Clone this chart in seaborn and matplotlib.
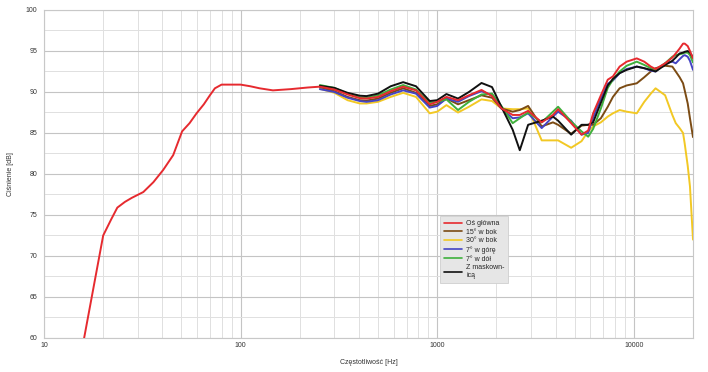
import numpy as np
import pandas as pd
import matplotlib
matplotlib.use("Agg")
import matplotlib.pyplot as plt
from matplotlib.ticker import LogLocator, FixedLocator, NullFormatter, FuncFormatter
import seaborn as sns

# ---- data ----
freq_lo = [16, 20, 22, 23.6, 25.8, 28, 32, 36, 40.4, 45.4, 50.4, 55, 59.7, 65, 69.8, 74,
           80, 90, 100, 112, 125, 146, 180, 220]
red_lo = [60, 72.5, 74.5, 75.9, 76.6, 77.1, 77.8, 79.0, 80.5, 82.3, 85.2, 86.2, 87.4, 88.5,
          89.6, 90.45, 90.9, 90.9, 90.9, 90.7, 90.45, 90.2, 90.35, 90.55]

freq_hi = [253, 300, 350, 404, 437, 500, 580, 671, 780, 916, 1000, 1114, 1276, 1450, 1680,
           1900, 2120, 2420, 2630, 2900, 3400, 3880, 4120, 4800, 5420, 5860, 6210, 6800,
           7370, 7830, 8470, 9200, 10350, 11300, 12200, 12900, 14430, 15700, 16340, 17100,
           17800, 18150, 18800, 19300, 20000]

red_hi = [90.65, 90.3, 89.7, 89.25, 89.2, 89.4, 90.1, 90.65, 90.2, 88.5, 88.8, 89.4, 89.0,
          89.6, 90.25, 89.5, 88.0, 87.2, 87.2, 87.7, 86.3, 87.2, 87.9, 86.2, 84.8, 85.3,
          87.4, 89.6, 91.5, 91.9, 93.1, 93.7, 94.1, 93.7, 93.1, 92.8, 93.5, 94.2, 94.7,
          95.3, 95.9, 95.9, 95.6, 95.0, 94.1]
brown = [90.6, 90.1, 89.4, 89.0, 88.95, 89.2, 89.9, 90.45, 89.9, 88.3, 88.5, 89.2, 88.5,
         89.0, 89.6, 89.3, 88.0, 87.6, 87.8, 88.3, 85.8, 86.3, 86.0, 84.9, 85.9, 86.0,
         86.0, 86.8, 88.2, 89.4, 90.45, 90.8, 91.06, 91.8, 92.5, 92.9, 93.2, 93.1, 92.5,
         91.8, 91.06, 90.2, 88.6, 86.8, 84.5]
yellow = [90.4, 89.9, 89.0, 88.6, 88.6, 88.8, 89.4, 89.9, 89.4, 87.4, 87.6, 88.4, 87.5,
          88.2, 89.1, 88.9, 88.0, 87.9, 87.9, 88.0, 84.1, 84.1, 84.1, 83.2, 84.0, 85.2,
          85.8, 86.3, 87.0, 87.4, 87.8, 87.6, 87.4, 88.8, 89.8, 90.45, 89.6, 87.2, 86.2,
          85.6, 85.0, 83.7, 81.0, 78.5, 72.0]
blue = [90.35, 90.0, 89.3, 88.9, 88.8, 89.0, 89.7, 90.2, 89.8, 88.1, 88.3, 89.2, 88.8,
        89.5, 90.1, 89.6, 88.0, 86.8, 86.9, 87.4, 85.6, 87.0, 87.6, 86.5, 84.8, 85.0,
        86.9, 89.2, 91.0, 91.4, 92.3, 92.8, 93.1, 92.9, 92.6, 92.5, 93.5, 93.7, 93.5,
        94.0, 94.4, 94.5, 94.3, 93.8, 92.7]
green = [90.85, 90.5, 89.8, 89.35, 89.3, 89.6, 90.3, 90.85, 90.3, 88.7, 88.8, 89.1, 87.8,
         88.8, 89.7, 89.8, 88.3, 86.2, 86.8, 87.5, 86.3, 87.6, 88.2, 86.4, 85.2, 84.55,
         85.5, 88.0, 90.5, 91.5, 92.5, 93.2, 93.7, 93.3, 92.9, 92.7, 93.5, 94.3, 94.5,
         94.6, 94.7, 94.8, 94.8, 94.5, 93.6]
black = [90.75, 90.5, 89.9, 89.55, 89.5, 89.8, 90.7, 91.2, 90.7, 88.9, 89.0, 89.75, 89.2,
         90.0, 91.1, 90.6, 88.2, 85.4, 82.9, 86.0, 86.5, 87.0, 86.5, 84.8, 86.0, 86.0,
         86.3, 88.7, 90.8, 91.6, 92.3, 92.7, 93.1, 92.9, 92.7, 92.5, 93.3, 93.8, 94.2,
         94.7, 94.8, 94.9, 95.0, 94.8, 94.2]

labels = ["Oś główna", "15° w bok", "30° w bok", "7° w górę", "7° w dół", "Z maskown-\nicą"]
colors = ["#e62a2f", "#7b4b14", "#f2c824", "#4444c4", "#3fb03c", "#111111"]
x_ticks = [10, 100, 1000, 10000]
y_ticks = [60, 65, 70, 75, 80, 85, 90, 95, 100]

# ---- build long table ----
series = [red_hi, brown, yellow, blue, green, black]
frames = []
for lab, vals in zip(labels, series):
    if lab == labels[0]:
        f = list(freq_lo) + list(freq_hi)
        v = list(red_lo) + list(vals)
    else:
        f = list(freq_hi)
        v = list(vals)
    frames.append(pd.DataFrame({"f": f, "db": v, "s": lab}))
df = pd.concat(frames, ignore_index=True)

sns.set_style("white")
plt.rcParams["font.family"] = ["Liberation Sans", "DejaVu Sans"]

fig = plt.figure(figsize=(7.08, 3.72), dpi=100)
ax = fig.add_axes([44 / 708, 1 - 338 / 372, (693 - 44) / 708, (338 - 10) / 372])

zorders = {labels[0]: 8, labels[1]: 4, labels[2]: 3, labels[3]: 5, labels[4]: 6, labels[5]: 7}
for lab, col in zip(labels, colors):
    sub = df[df["s"] == lab]
    sns.lineplot(data=sub, x="f", y="db", ax=ax, color=col, lw=1.4, sort=False,
                 label=lab, zorder=zorders[lab], estimator=None)

ax.set_xscale("log")
ax.set_xlim(10, 20000)
ax.set_ylim(60, 100)
ax.xaxis.set_major_locator(FixedLocator(x_ticks))
ax.xaxis.set_major_formatter(FuncFormatter(lambda v, p: f"{int(v)}"))
ax.xaxis.set_minor_locator(LogLocator(base=10, subs=np.arange(2, 10)))
ax.xaxis.set_minor_formatter(NullFormatter())
ax.yaxis.set_major_locator(FixedLocator(y_ticks))
ax.yaxis.set_minor_locator(FixedLocator(np.arange(62.5, 100, 5)))

ax.grid(which="major", color="#c4c4c4", lw=0.8)
ax.grid(which="minor", color="#e0e0e0", lw=0.7)
ax.set_axisbelow(True)
for sp in ax.spines.values():
    sp.set_color("#c8c8c8")
    sp.set_linewidth(0.8)
ax.tick_params(which="both", length=0, labelsize=5, colors="#333333", pad=3)
ax.tick_params(axis="y", which="major", length=3, color="#c8c8c8", pad=2)

ax.set_xlabel("Częstotliwość [Hz]", fontsize=5, color="#333333", labelpad=7)
ax.set_ylabel("Ciśnienie [dB]", fontsize=5, color="#333333", labelpad=8)

leg = ax.legend(loc="upper left", bbox_to_anchor=(437 / 708, 1 - 213 / 372),
                bbox_transform=fig.transFigure, fontsize=5, frameon=True,
                fancybox=False, handlelength=2.6, handletextpad=0.6,
                borderpad=0.5, labelspacing=0.25)
leg.get_frame().set_facecolor("#e6e6e6")
leg.get_frame().set_edgecolor("#cfcfcf")
leg.get_frame().set_linewidth(0.6)
leg.get_frame().set_alpha(1)
for line in leg.get_lines():
    line.set_linewidth(1.2)
leg.set_zorder(20)

fig.savefig("out.png", dpi=100, facecolor="white")
